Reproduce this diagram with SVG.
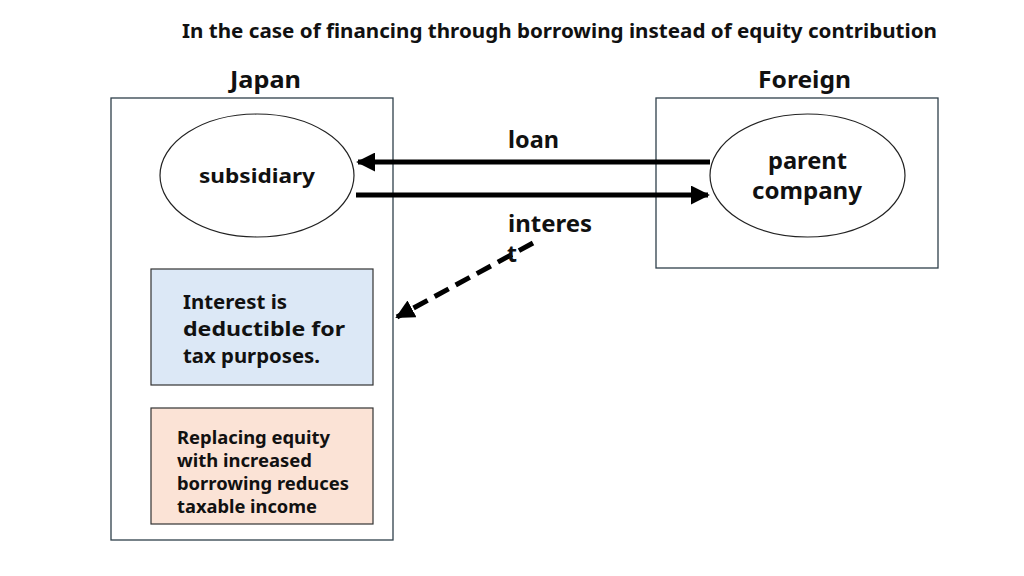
<svg xmlns="http://www.w3.org/2000/svg" width="1024" height="576" viewBox="0 0 1024 576">
<style>
text{font-family:"Noto Sans","Noto Sans CJK JP",sans-serif;font-weight:bold;fill:#111}
.frame{fill:#fff;stroke:#2f3f4a;stroke-width:1.3}
.ell{fill:#fff;stroke:#222;stroke-width:1.2}
.arr{stroke:#000;stroke-width:5;fill:none}
</style>
<defs>
<marker id="ah" viewBox="0 0 10 10" refX="9" refY="5" markerWidth="3.8" markerHeight="3.8" orient="auto" markerUnits="strokeWidth">
<path d="M0,0 L10,5 L0,10 z" fill="#000"/>
</marker>
</defs>
<rect width="1024" height="576" fill="#fff"/>
<text x="182" y="38" font-size="19.5" textLength="755" lengthAdjust="spacingAndGlyphs">In the case of financing through borrowing instead of equity contribution</text>
<g id="japan">
<rect class="frame" x="111" y="98" width="282" height="442"/>
<text x="230" y="88" font-size="24" textLength="71" lengthAdjust="spacingAndGlyphs">Japan</text>
</g>
<g id="foreign">
<rect class="frame" x="656" y="98" width="282" height="170"/>
<text x="758" y="88" font-size="24" textLength="93" lengthAdjust="spacingAndGlyphs">Foreign</text>
</g>
<g id="subsidiary">
<ellipse class="ell" cx="257" cy="175.5" rx="97" ry="61.5"/>
<text x="199" y="183" font-size="20" textLength="116" lengthAdjust="spacingAndGlyphs">subsidiary</text>
</g>
<g id="parent">
<ellipse class="ell" cx="807.5" cy="175.5" rx="97.5" ry="61.5"/>
<text x="768" y="169" font-size="23" textLength="79" lengthAdjust="spacingAndGlyphs">parent</text>
<text x="752" y="199" font-size="23" textLength="110" lengthAdjust="spacingAndGlyphs">company</text>
</g>
<g id="deductible">
<rect x="151" y="269" width="222" height="116" fill="#dce8f6" stroke="#333" stroke-width="1.2"/>
<text font-size="20"><tspan x="183" y="309" textLength="104" lengthAdjust="spacingAndGlyphs">Interest is</tspan><tspan x="183" y="336" textLength="162" lengthAdjust="spacingAndGlyphs">deductible for</tspan><tspan x="183" y="363" textLength="137" lengthAdjust="spacingAndGlyphs">tax purposes.</tspan></text>
</g>
<g id="replacing">
<rect x="151" y="408" width="222" height="116" fill="#fbe3d6" stroke="#333" stroke-width="1.2"/>
<text font-size="18"><tspan x="177" y="444" textLength="153" lengthAdjust="spacingAndGlyphs">Replacing equity</tspan><tspan x="177" y="467" textLength="135" lengthAdjust="spacingAndGlyphs">with increased</tspan><tspan x="177" y="490" textLength="172" lengthAdjust="spacingAndGlyphs">borrowing reduces</tspan><tspan x="177" y="513" textLength="140" lengthAdjust="spacingAndGlyphs">taxable income</tspan></text>
</g>
<g id="connectors">
<line class="arr" x1="710" y1="162" x2="358" y2="162" marker-end="url(#ah)"/>
<line class="arr" x1="356" y1="195" x2="708" y2="195" marker-end="url(#ah)"/>
<line class="arr" x1="533" y1="243" x2="397" y2="317" stroke-width="5.5" stroke-dasharray="16,8" marker-end="url(#ah)"/>
<text x="508" y="148" font-size="23" textLength="51" lengthAdjust="spacingAndGlyphs">loan</text>
<text font-size="23"><tspan x="508" y="232" textLength="84" lengthAdjust="spacingAndGlyphs">interes</tspan><tspan x="507" y="262">t</tspan></text>
</g>
</svg>
